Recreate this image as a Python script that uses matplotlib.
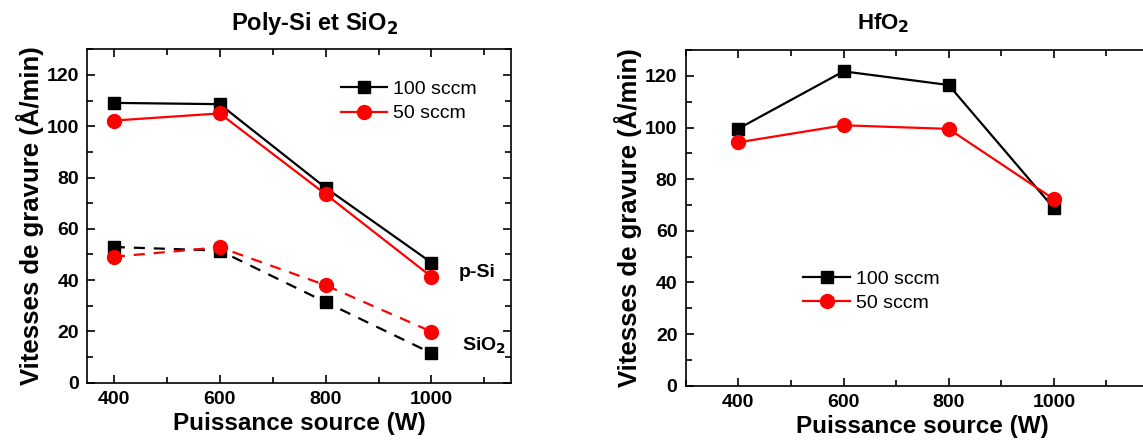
import numpy as np
import matplotlib.pyplot as plt
from matplotlib.ticker import MultipleLocator, FixedLocator

plt.rcParams['font.family'] = ['Liberation Sans', 'DejaVu Sans']

power = [400, 600, 800, 1000]
# Poly-Si et SiO2
psi_100 = [109.1, 108.6, 76.0, 46.8]
psi_50 = [102.2, 105.0, 73.5, 41.3]
sio2_100 = [52.9, 51.5, 31.4, 11.5]
sio2_50 = [49.1, 52.8, 38.0, 19.9]
# HfO2
hfo2_100 = [99.6, 121.8, 116.5, 68.8]
hfo2_50 = [94.3, 100.9, 99.5, 72.3]

fig = plt.figure(figsize=(11.43, 4.48), dpi=100)
ax1 = fig.add_axes([0.0764, 0.1458, 0.3706, 0.7442])
ax2 = fig.add_axes([0.600, 0.139, 0.414, 0.749])

sq = dict(marker='s', markersize=8, color='black', lw=1.6)
ci = dict(marker='o', markersize=10, color='red', lw=1.6)

ax1.plot(power, psi_100, label='100 sccm', **sq)
ax1.plot(power, psi_50, label='50 sccm', **ci)
ax1.plot(power, sio2_100, ls=(0, (5, 4)), **sq)
ax1.plot(power, sio2_50, ls=(0, (5, 4)), **ci)
ax1.set_xlim(350, 1150)
ax1.xaxis.set_major_locator(MultipleLocator(200))
ax1.xaxis.set_minor_locator(MultipleLocator(100))

ax2.plot(power, hfo2_100, label='100 sccm', **sq)
ax2.plot(power, hfo2_50, label='50 sccm', **ci)
ax2.set_xlim(300, 1200)
ax2.xaxis.set_major_locator(FixedLocator(power))
ax2.xaxis.set_minor_locator(FixedLocator([300, 500, 700, 900, 1100]))

for ax in (ax1, ax2):
    ax.set_ylim(0, 130)
    ax.yaxis.set_major_locator(MultipleLocator(20))
    ax.yaxis.set_minor_locator(MultipleLocator(10))
    ax.tick_params(which='both', direction='in', top=True, right=True, width=1.2)
    ax.tick_params(which='major', length=6, labelsize=14, pad=6)
    ax.tick_params(which='minor', length=4)
    for lab in ax.get_xticklabels() + ax.get_yticklabels():
        lab.set_fontweight('bold')
    for s in ax.spines.values():
        s.set_linewidth(1.2)
    ax.set_xlabel('Puissance source (W)', fontsize=17.5, fontweight='bold', labelpad=3)
    ax.set_ylabel('Vitesses de gravure (Å/min)', fontsize=18.5, fontweight='bold', labelpad=2)

fig.text(0.2756, 0.948, 'Poly-Si et SiO$_\\mathbf{2}$', fontsize=17, fontweight='bold',
         ha='center', va='center')
fig.text(0.7725, 0.948, 'HfO$_\\mathbf{2}$', fontsize=16, fontweight='bold',
         ha='center', va='center')

ax1.text(1052, 43, 'p-Si', fontsize=14, fontweight='bold', ha='left', va='center')
ax1.text(1057, 14.5, 'SiO$_\\mathbf{2}$', fontsize=14, fontweight='bold', ha='left', va='center')

ax1.legend(loc='upper left', bbox_to_anchor=(0.58, 0.93), frameon=False, fontsize=14,
           handlelength=2.4, handletextpad=0.3, borderaxespad=0.0, labelspacing=0.35)
ax2.legend(loc='upper left', bbox_to_anchor=(0.232, 0.368), frameon=False, fontsize=14,
           handlelength=2.4, handletextpad=0.3, borderaxespad=0.0, labelspacing=0.35)

fig.savefig('out.png', dpi=100)
